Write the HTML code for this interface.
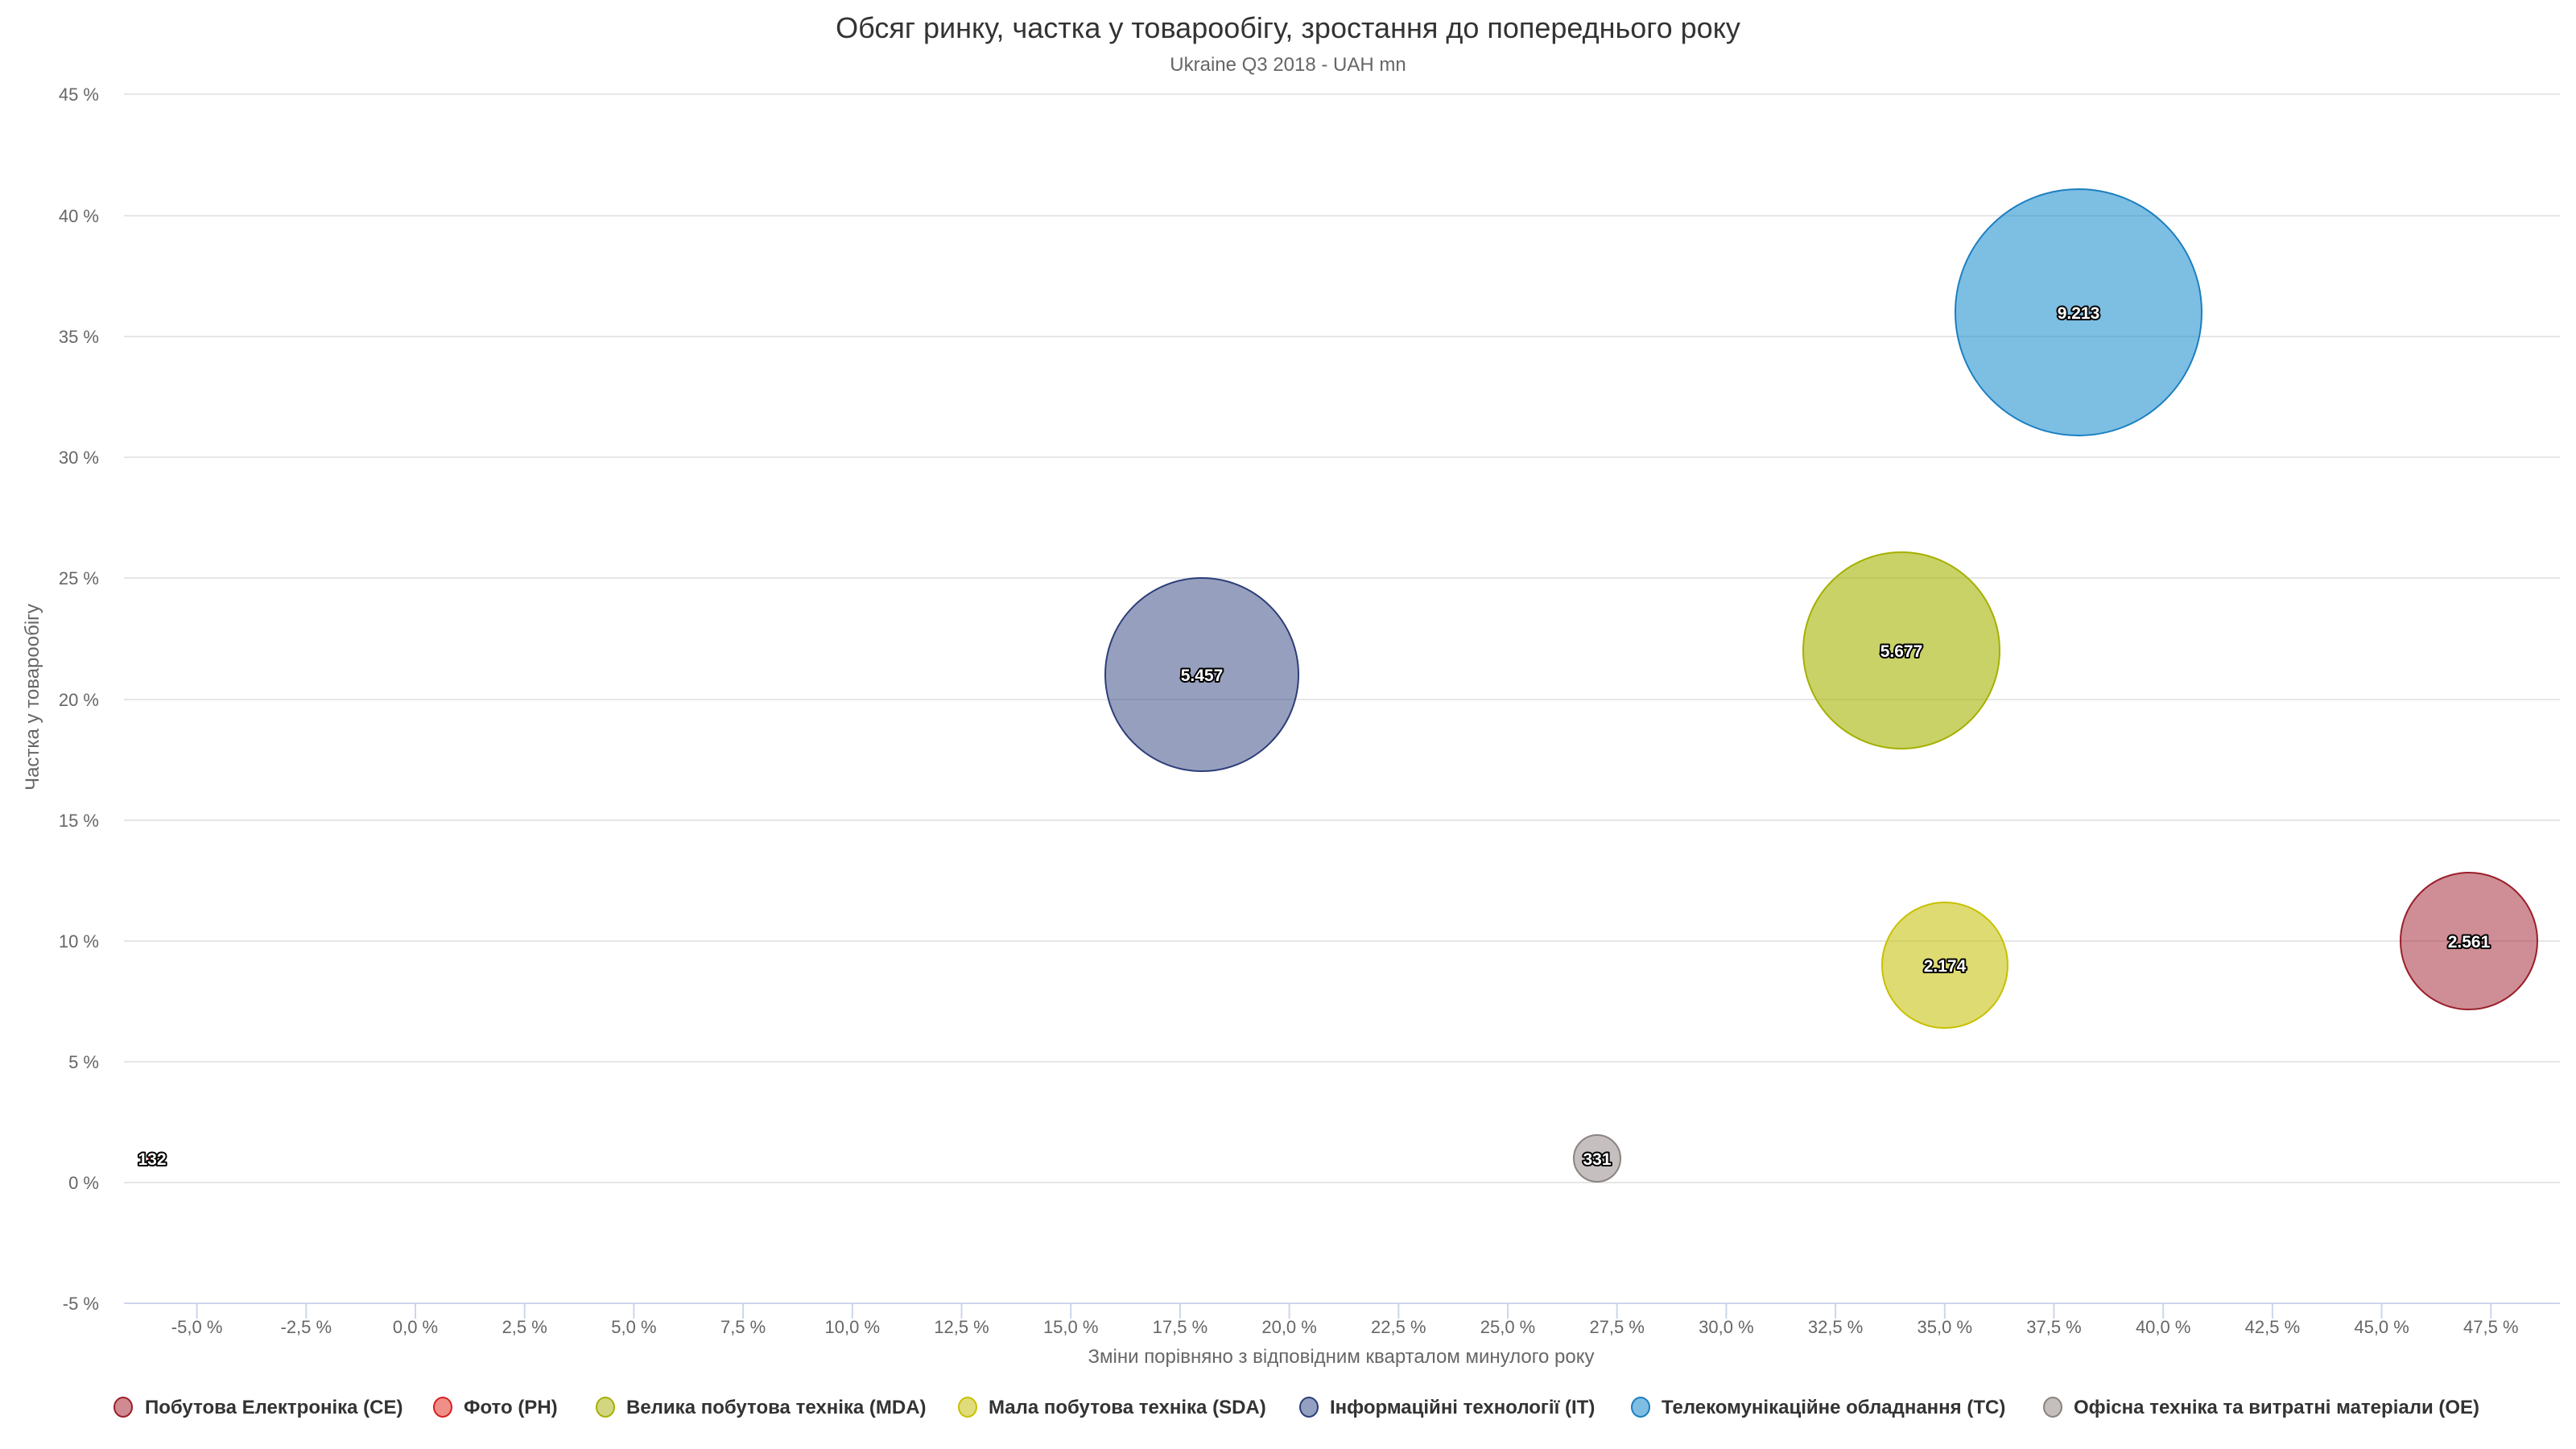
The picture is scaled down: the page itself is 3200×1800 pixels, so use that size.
<!DOCTYPE html>
<html><head><meta charset="utf-8"><style>
html,body{margin:0;padding:0;background:#fff;}
svg{display:block;font-family:"Liberation Sans",sans-serif;}
.lbl{font-size:22px;fill:#666;}
.bl{font-size:21px;font-weight:bold;fill:#fff;stroke:#000;stroke-width:4px;paint-order:stroke;stroke-linejoin:round;}
.lg{font-size:24px;font-weight:bold;fill:#333;}
</style></head><body>
<svg width="3200" height="1800" viewBox="0 0 3200 1800">
<text x="1600" y="47" text-anchor="middle" font-size="36" fill="#333">Обсяг ринку, частка у товарообігу, зростання до попереднього року</text>
<text x="1600" y="88" text-anchor="middle" font-size="24" fill="#666">Ukraine Q3 2018 - UAH mn</text>
<g stroke="#e6e6e6" stroke-width="2">
<line x1="154" x2="3180" y1="117" y2="117"/>
<line x1="154" x2="3180" y1="268" y2="268"/>
<line x1="154" x2="3180" y1="418" y2="418"/>
<line x1="154" x2="3180" y1="568" y2="568"/>
<line x1="154" x2="3180" y1="718" y2="718"/>
<line x1="154" x2="3180" y1="869" y2="869"/>
<line x1="154" x2="3180" y1="1019" y2="1019"/>
<line x1="154" x2="3180" y1="1169" y2="1169"/>
<line x1="154" x2="3180" y1="1319" y2="1319"/>
<line x1="154" x2="3180" y1="1469" y2="1469"/>
</g>
<line x1="154" x2="3180" y1="1619" y2="1619" stroke="#ccd6eb" stroke-width="2"/>
<g class="lbl" text-anchor="end">
<text x="123" y="125">45 %</text><text x="123" y="276">40 %</text><text x="123" y="426">35 %</text>
<text x="123" y="576">30 %</text><text x="123" y="726">25 %</text><text x="123" y="877">20 %</text>
<text x="123" y="1027">15 %</text><text x="123" y="1177">10 %</text><text x="123" y="1327">5 %</text>
<text x="123" y="1477">0 %</text><text x="123" y="1627">-5 %</text>
</g>
<g stroke="#ccd6eb" stroke-width="2" id="ticks"></g>
<g class="lbl" text-anchor="middle" id="xl"></g>
<text transform="translate(48,866) rotate(-90)" text-anchor="middle" font-size="24" fill="#666">Частка у товарообігу</text>
<text x="1666" y="1693" text-anchor="middle" font-size="24" fill="#666">Зміни порівняно з відповідним кварталом минулого року</text>

<circle cx="2582" cy="388" r="153" fill="rgba(38,147,209,0.6)" stroke="#1a7fc1" stroke-width="2"/>
<circle cx="1493" cy="838" r="120" fill="rgba(45,65,125,0.5)" stroke="#2d3e7a" stroke-width="2"/>
<circle cx="2362" cy="808" r="122" fill="rgba(165,180,0,0.6)" stroke="#a5b000" stroke-width="2"/>
<circle cx="2416" cy="1199" r="78" fill="rgba(200,195,20,0.6)" stroke="#c8c000" stroke-width="2"/>
<circle cx="3067" cy="1169" r="85" fill="rgba(160,30,45,0.5)" stroke="#9a1f2a" stroke-width="2"/>
<circle cx="1984" cy="1439" r="29" fill="rgba(140,130,128,0.5)" stroke="#8a8380" stroke-width="2"/>
<circle cx="190" cy="1439" r="5" fill="rgba(230,80,70,0.6)" stroke="#d82020" stroke-width="2"/>
<g class="bl" text-anchor="middle">
<text x="2582" y="396">9.213</text><text x="1493" y="846">5.457</text><text x="2362" y="816">5.677</text>
<text x="2416" y="1207">2.174</text><text x="3067" y="1177">2.561</text><text x="1984" y="1447">331</text>
<text x="189" y="1447">132</text>
</g>
<g>
<ellipse cx="153" cy="1748" rx="11" ry="12" fill="#d08a92" stroke="#9a1f2a" stroke-width="2"/>
<text class="lg" x="180" y="1756">Побутова Електроніка (CE)</text>
<ellipse cx="550" cy="1748" rx="11" ry="12" fill="#ef9088" stroke="#d82020" stroke-width="2"/>
<text class="lg" x="576" y="1756">Фото (PH)</text>
<ellipse cx="752" cy="1748" rx="11" ry="12" fill="#d2d680" stroke="#a5b000" stroke-width="2"/>
<text class="lg" x="778" y="1756">Велика побутова техніка (MDA)</text>
<ellipse cx="1202" cy="1748" rx="11" ry="12" fill="#e0dc7c" stroke="#c8c000" stroke-width="2"/>
<text class="lg" x="1228" y="1756">Мала побутова техніка (SDA)</text>
<ellipse cx="1626" cy="1748" rx="11" ry="12" fill="#93a0c0" stroke="#2d3e7a" stroke-width="2"/>
<text class="lg" x="1652" y="1756">Інформаційні технології (IT)</text>
<ellipse cx="2038" cy="1748" rx="11" ry="12" fill="#80bde3" stroke="#1a7fc1" stroke-width="2"/>
<text class="lg" x="2064" y="1756">Телекомунікаційне обладнання (TC)</text>
<ellipse cx="2550" cy="1748" rx="11" ry="12" fill="#c4bebc" stroke="#8a8380" stroke-width="2"/>
<text class="lg" x="2576" y="1756">Офісна техніка та витратні матеріали (OE)</text>
</g>
</svg>
<script>
var t=document.getElementById('ticks'),l=document.getElementById('xl'),ns='http://www.w3.org/2000/svg';
for(var i=0;i<22;i++){var v=-5+i*2.5;var x=516+v/2.5*135.7;
var ln=document.createElementNS(ns,'line');ln.setAttribute('x1',x);ln.setAttribute('x2',x);ln.setAttribute('y1',1619);ln.setAttribute('y2',1638);t.appendChild(ln);
var tx=document.createElementNS(ns,'text');tx.setAttribute('x',x);tx.setAttribute('y',1656);tx.textContent=v.toFixed(1).replace('.',',')+' %';l.appendChild(tx);}
</script>
</body></html>
